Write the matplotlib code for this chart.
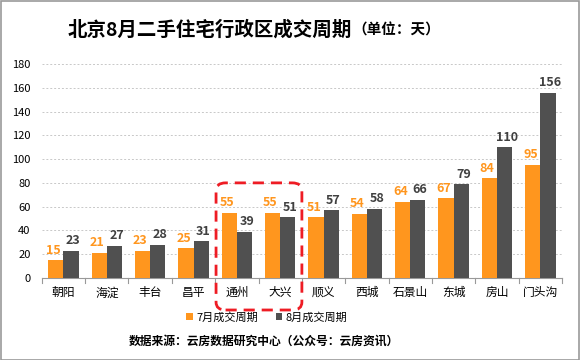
import matplotlib
matplotlib.use("Agg")
import matplotlib.pyplot as plt
import matplotlib.patches as patches
import numpy as np

plt.rcParams['font.family'] = ['Noto Sans CJK SC', 'DejaVu Sans']

districts = ['朝阳', '海淀', '丰台', '昌平', '通州', '大兴', '顺义', '西城', '石景山', '东城', '房山', '门头沟']
july = [15, 21, 23, 25, 55, 55, 51, 54, 64, 67, 84, 95]
august = [23, 27, 28, 31, 39, 51, 57, 58, 66, 79, 110, 156]
yticks = [0, 20, 40, 60, 80, 100, 120, 140, 160, 180]

orange = '#FF961E'
dark = '#505050'

fig = plt.figure(figsize=(5.8, 3.6), dpi=100)
ax = fig.add_axes([0.072, 0.228, 0.897, 0.594])

x = np.arange(len(districts))
w = 0.35
ax.bar(x - w / 2, july, w, color=orange, label='7月成交周期', zorder=3)
ax.bar(x + w / 2, august, w, color=dark, label='8月成交周期', zorder=3)

for i in range(len(districts)):
    ax.text(x[i] - w / 2 - 0.05, july[i] + 3, str(july[i]), color=orange,
            ha='center', va='bottom', fontsize=9, fontweight='bold')
    ax.text(x[i] + w / 2 + 0.05, august[i] + 3, str(august[i]), color='#404040',
            ha='center', va='bottom', fontsize=9, fontweight='bold')

ax.set_xlim(-0.5, len(districts) - 0.5)
ax.set_ylim(0, 180)
ax.set_yticks(yticks)
ax.tick_params(axis='y', length=0, labelsize=8, pad=8)
ax.set_xticks(x)
ax.set_xticklabels(districts, fontsize=8.5)
ax.tick_params(axis='x', length=0, pad=6)
for b in np.arange(-0.5, len(districts), 1.0):
    ax.plot([b, b], [0, -4], color='#999999', lw=0.8, clip_on=False)
ax.yaxis.grid(True, linestyle=(0, (2, 2)), color='#c8c8c8', lw=0.7, zorder=0)
for s in ['top', 'right', 'left']:
    ax.spines[s].set_visible(False)
ax.spines['bottom'].set_color('#999999')

# highlight box around 通州 / 大兴
box = patches.FancyBboxPatch((3.52, -27), 1.98, 107,
                             boxstyle='round,pad=0,rounding_size=0.22',
                             fill=False, edgecolor='#EE1C24', lw=2,
                             linestyle=(0, (4, 2.5)), clip_on=False, zorder=4,
                             mutation_aspect=30)
ax.add_patch(box)

fig.legend(loc='center', bbox_to_anchor=(0.46, 0.118), ncol=2, frameon=False,
           fontsize=8, handlelength=0.6, handleheight=0.6, handletextpad=0.3,
           columnspacing=1.6)

fig.text(0.607, 0.918, '北京8月二手住宅行政区成交周期', fontsize=14, fontweight='bold',
         ha='right', va='center')
fig.text(0.607, 0.918, '（单位：天）', fontsize=10.5, fontweight='bold',
         ha='left', va='center')
fig.text(0.455, 0.053, '数据来源：云房数据研究中心（公众号：云房资讯）', fontsize=8.5,
         fontweight='bold', ha='center', va='center')

fig.patches.append(patches.Rectangle((0.001, 0.001), 0.997, 0.996, transform=fig.transFigure,
                                     fill=False, edgecolor='#999999', lw=1.2))

fig.savefig('out.png', dpi=100)
